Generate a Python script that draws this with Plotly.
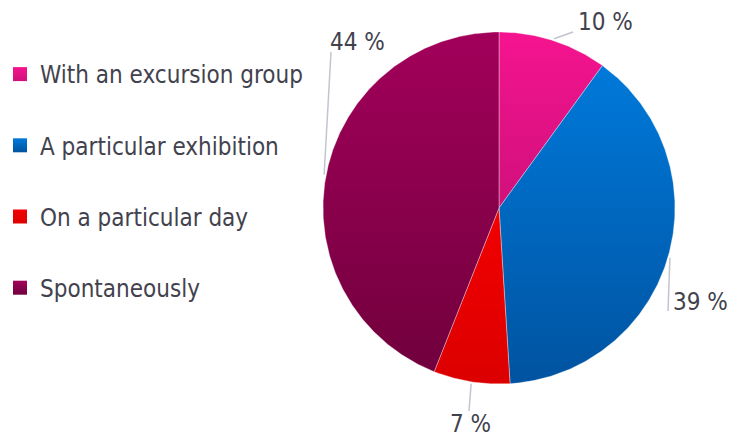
import numpy as np
import plotly.graph_objects as go

# Share of visitors by reason for the visit
categories = ["With an excursion group", "A particular exhibition",
              "On a particular day", "Spontaneously"]
shares = [10, 39, 7, 44]
pct_labels = ["10 %", "39 %", "7 %", "44 %"]

# Vertical gradient per slice: (top colour, bottom colour)
slice_colors = [("#f5148f", "#d0107b"),
                ("#0079da", "#0053a0"),
                ("#f20000", "#dc0000"),
                ("#a2005a", "#71003d")]

W, H = 733, 439
CX, CY, R = 499, 208, 176          # pie centre and radius in canvas units
TEXT = "#42424e"
FONT = "DejaVu Sans Condensed, DejaVu Sans, sans-serif"
FS = 24

# Where each percentage label sits (left/centre anchor) and its leader end
label_pos = [(577, 22, "left"), (672, 302, "left"), (470, 424, "center"), (329, 42, "left")]
leader_end = [(573, 32), (668, 311), (469, 411), (331, 52)]

fig = go.Figure()

total = float(sum(shares))
start = 0.0
for i, v in enumerate(shares):
    a0 = start / total * 2 * np.pi
    a1 = (start + v) / total * 2 * np.pi
    t = np.linspace(a0, a1, max(8, int(v * 8)))
    xs = np.concatenate([[CX], CX + R * np.sin(t), [CX]])
    ys = np.concatenate([[CY], CY - R * np.cos(t), [CY]])
    top, bot = ys.min(), ys.max()
    light, dark = slice_colors[i]
    fig.add_trace(go.Scatter(
        x=xs, y=ys, mode="lines", fill="toself",
        line=dict(color="rgba(255,255,255,0.35)", width=1),
        fillgradient=dict(type="vertical", start=top, stop=bot,
                          colorscale=[[0, light], [1, dark]]),
        hoverinfo="skip", showlegend=False))

    # leader line from the slice's mid-arc to its label
    am = (a0 + a1) / 2
    ex, ey = CX + (R + 2) * np.sin(am), CY - (R + 2) * np.cos(am)
    lx, ly = leader_end[i]
    fig.add_shape(type="line", x0=ex, y0=ey, x1=lx, y1=ly,
                  line=dict(color="#c4c4cf", width=1.5), xref="x", yref="y")
    px_, py_, anc = label_pos[i]
    fig.add_annotation(x=px_, y=py_, xref="x", yref="y", text=pct_labels[i],
                       showarrow=False, xanchor=anc, yanchor="middle",
                       borderpad=0,
                       font=dict(family=FONT, size=FS, color=TEXT))
    start += v

# legend entries with gradient squares
for i, name in enumerate(categories):
    light, dark = slice_colors[i]
    fig.add_trace(go.Scatter(
        x=[None], y=[None], mode="markers", name=name, legendgroup=name,
        marker=dict(symbol="square", size=14, color=light,
                    gradient=dict(type="vertical", color=dark))))

fig.update_layout(
    width=W, height=H,
    margin=dict(l=0, r=0, t=0, b=0),
    paper_bgcolor="white", plot_bgcolor="white",
    xaxis=dict(range=[0, W], visible=False, fixedrange=True),
    yaxis=dict(range=[H, 0], visible=False, fixedrange=True,
               scaleanchor="x", scaleratio=1),
    legend=dict(x=0, y=1 - 52 / H, xanchor="left", yanchor="top",
                tracegroupgap=37, font=dict(family=FONT, size=FS, color=TEXT),
                bgcolor="rgba(0,0,0,0)", itemclick=False),
    showlegend=True,
)

fig.write_html("out.html")
